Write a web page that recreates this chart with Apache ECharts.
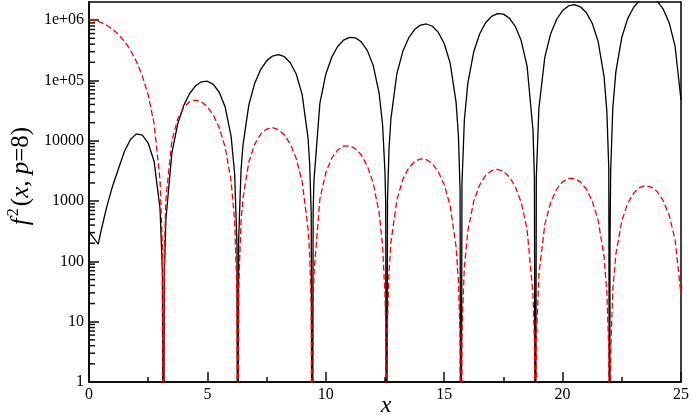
<!DOCTYPE html>
<html><head><meta charset="utf-8">
<script src="https://cdn.jsdelivr.net/npm/echarts@6/dist/echarts.min.js"></script>
<style>html,body{margin:0;padding:0;background:#fff}#chart{width:692px;height:415px}</style>
</head><body><div id="chart"></div>
<script>
// x positions (denser near the zeros at multiples of pi)
const xValues = [
  0, 0.25, 0.39, 0.5, 0.75, 1, 1.25, 1.5, 1.75, 2, 2.25, 2.5, 2.75, 3, 3.1, 3.1416, 3.18, 3.25,
  3.5, 3.75, 4, 4.25, 4.5, 4.75, 5, 5.25, 5.5, 5.75, 6, 6.15, 6.25, 6.2832, 6.32, 6.42,
  6.5, 6.75, 7, 7.25, 7.5, 7.75, 8, 8.25, 8.5, 8.75, 9, 9.25, 9.32, 9.385, 9.4248, 9.465,
  9.5, 9.75, 10, 10.25, 10.5, 10.75, 11, 11.25, 11.5, 11.75, 12, 12.25, 12.4, 12.5, 12.53, 12.5664, 12.605, 12.67,
  12.75, 13, 13.25, 13.5, 13.75, 14, 14.25, 14.5, 14.75, 15, 15.25, 15.5, 15.6, 15.67, 15.708,
  15.75, 15.85, 16, 16.25, 16.5, 16.75, 17, 17.25, 17.5, 17.75, 18, 18.25, 18.5, 18.75, 18.81, 18.8496, 18.89,
  19, 19.25, 19.5, 19.75, 20, 20.25, 20.5, 20.75, 21, 21.25, 21.5, 21.75, 21.87, 21.95, 21.9911, 22, 22.03, 22.12,
  22.25, 22.5, 22.75, 23, 23.25, 23.5, 23.75, 24, 24.25, 24.5, 24.75, 25
];
// solid black curve
const blackValues = [
  310, 230, 194, 310, 800, 1800, 3500, 6700, 10500, 13000, 12400, 9170, 4540, 741, 68.9, 0.0001, 61.9, 514,
  6285, 19213, 38420, 60800, 81470, 95040, 97120, 86030, 63790, 36240, 11930, 2835, 183, 0.0001, 230, 3262,
  8318, 39290, 90150, 151900, 211240, 253740, 267770, 247650, 197110, 127900, 58920, 11090, 4073, 598, 0.0001, 620,
  2182, 41620, 126960, 243340, 366240, 467060, 519840, 509530, 435780, 315310, 178340, 62480, 18145, 2956, 895, 0.0001, 1019, 7387,
  23330, 128470, 301600, 507210, 698420, 828790, 864000, 792130, 627630, 410260, 196040, 44190, 12199, 1530, 0.0001,
  1888, 21700, 91560, 303060, 595360, 903450, 1153200, 1283700, 1258700, 1081000, 789300, 458200, 173460, 15010, 2398, 0.0001, 2516,
  35000, 243330, 602600, 1035100, 1441200, 1721900, 1805500, 1666600, 1335200, 890350, 444880, 116780, 30200, 3521, 0.0001, 166, 3177, 34940,
  140370, 519960, 1060300, 1639200, 2120600, 2381100, 2356200, 2044800, 1519600, 908240, 369760, 47360
];
// dashed red curve
const redValues = [
  1000000, 979300, 950400, 919500, 825900, 708100, 576400, 442200, 316200, 206700, 119600, 57310, 19270, 2212, 180, 0.0001, 146, 1108,
  10046, 23234, 35797, 44348, 47186, 44260, 36780, 26765, 16454, 7815, 2168, 466, 28.2, 0.0001, 33.9, 451.5,
  1095, 4444, 8809, 12890, 15642, 16467, 15296, 12501, 8825, 5097, 2097, 353, 126, 18.0, 0.0001, 18.0,
  62.5, 1074, 2959, 5136, 7018, 8143, 8264, 7402, 5796, 3847, 2000, 645, 178, 28.1, 8.4, 0.0001, 9.4, 66.6,
  205, 1045, 2272, 3545, 4536, 5007, 4862, 4157, 3076, 1880, 840, 177, 47.8, 5.9, 0.0001,
  7.1, 79.7, 324, 1007, 1861, 2659, 3198, 3358, 3108, 2521, 1741, 956, 343, 28.1, 4.4, 0.0001, 4.6,
  62.2, 410, 964, 1574, 2083, 2368, 2364, 2079, 1587, 1010, 481, 121, 30.5, 3.5, 0.0001, 0.16, 3.1, 33.7,
  132, 469, 915, 1354, 1677, 1804, 1711, 1424, 1015, 582, 228, 28
];
const xMajorTicks = [0, 5, 10, 15, 20, 25];
const yMajorTicks = [1, 10, 100, 1000, 10000, 100000, 1000000];
const yMax = 2000000;
const yMinorTicks = [];
yMajorTicks.slice(0, 6).forEach(d => { for (let k = 2; k <= 9; k++) yMinorTicks.push(d * k); });

const FONT = '"Liberation Serif", "Times New Roman", serif';
const chart = echarts.init(document.getElementById('chart'));
const blackData = xValues.map((x, i) => [x, blackValues[i]]);
const redData = xValues.map((x, i) => [x, redValues[i]]);

chart.setOption({
  animation: false,
  grid: { left: 89, top: 2, right: 10, bottom: 33, show: true, borderColor: '#000', borderWidth: 1.5 },
  xAxis: {
    type: 'value', min: xMajorTicks[0], max: xMajorTicks[xMajorTicks.length - 1], interval: 5,
    axisLine: { lineStyle: { color: '#000', width: 1.5 } },
    axisTick: { show: true, inside: true, length: 10, lineStyle: { color: '#111', width: 1.5 } },
    minorTick: { show: true, splitNumber: 2, length: 5, lineStyle: { color: '#111', width: 1.5 } },
    splitLine: { show: false },
    axisLabel: { color: '#000', fontFamily: FONT, fontSize: 16, margin: 5 }
  },
  yAxis: {
    type: 'log', logBase: 10, min: 1, max: yMax,
    axisLine: { show: true, lineStyle: { color: '#000', width: 1.5 } },
    axisTick: { show: true, inside: true, length: 10, lineStyle: { color: '#111', width: 1.5 } },
    splitLine: { show: false },
    axisLabel: { color: '#000', fontFamily: FONT, fontSize: 16, margin: 5, showMaxLabel: false,
      formatter: v => { const e = Math.round(Math.log10(v)); return e >= 5 ? '1e+0' + e : String(Math.pow(10, e)); } }
  },
  series: [{
    type: 'line', data: blackData, showSymbol: false, symbol: 'none', clip: true,
    lineStyle: { color: '#000', width: 1.3 }
  }, {
    type: 'line', data: redData, showSymbol: false, symbol: 'none', clip: true,
    lineStyle: { color: '#ff0000', width: 1.3, type: [6, 3] }
  }]
});

// logarithmic minor ticks on the y axis, positioned through the chart's own log scale
const graphics = [];
const x0 = chart.convertToPixel({ xAxisIndex: 0 }, 0);
yMinorTicks.forEach(v => {
  const py = chart.convertToPixel({ yAxisIndex: 0 }, v);
  graphics.push({ type: 'line',
    shape: { x1: x0, y1: py, x2: x0 + 6, y2: py }, style: { stroke: '#111', lineWidth: 1.5 } });
});

graphics.push({
  type: 'text', x: 21, y: 176, rotation: Math.PI / 2,
  style: {
    text: '{i|f}{s|2}{n|(}{i|x}{n|, }{i|p}{n|=8)}',
    align: 'center', verticalAlign: 'middle', fill: '#000',
    rich: {
      i: { fontFamily: FONT, fontStyle: 'italic', fontSize: 25, lineHeight: 30, fill: '#000' },
      n: { fontFamily: FONT, fontSize: 25, lineHeight: 30, fill: '#000' },
      s: { fontFamily: FONT, fontSize: 16, lineHeight: 16, verticalAlign: 'top', fill: '#000', padding: [0, 2, 0, 2] }
    }
  }
}, {
  type: 'text', x: 386, y: 406,
  style: { text: 'x', font: 'italic 24px ' + FONT, align: 'center', verticalAlign: 'middle', fill: '#000' }
});
chart.setOption({ graphic: graphics });
</script>
</body></html>
